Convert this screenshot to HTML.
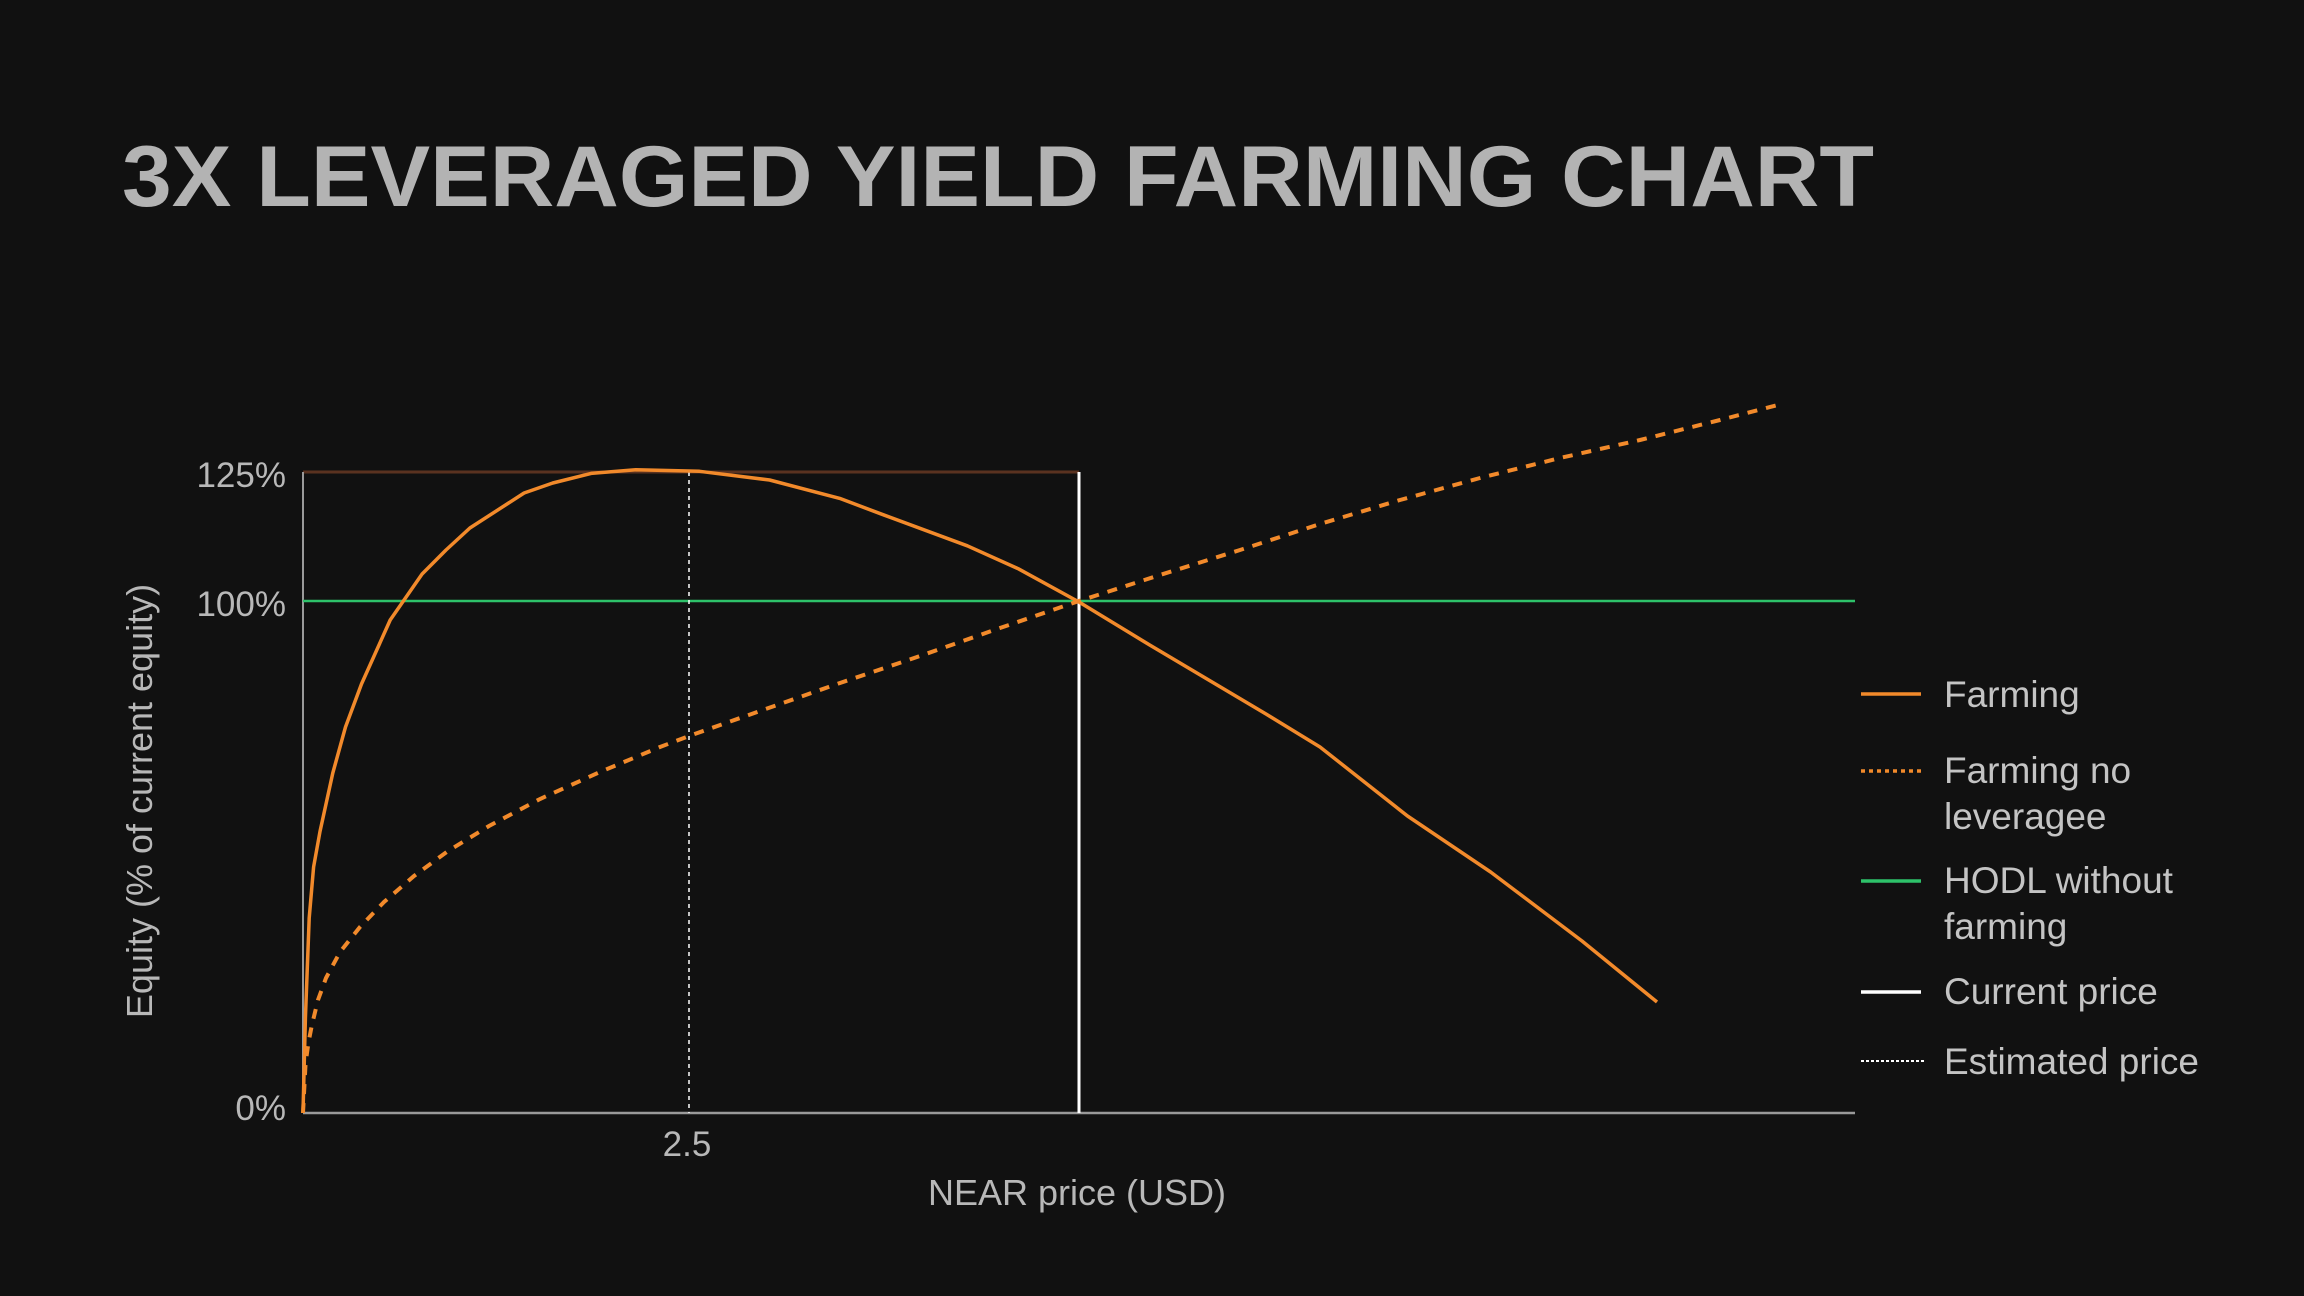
<!DOCTYPE html>
<html><head><meta charset="utf-8"><style>
html,body{margin:0;padding:0;background:#111111;}
svg{display:block;}
text{font-family:"Liberation Sans",sans-serif;}
</style></head><body>
<svg width="2304" height="1296" viewBox="0 0 2304 1296" xmlns="http://www.w3.org/2000/svg">
<rect width="2304" height="1296" fill="#111111"/>
<text x="122" y="206" font-size="86" font-weight="bold" fill="#b3b3b3" textLength="1752" lengthAdjust="spacingAndGlyphs">3X LEVERAGED YIELD FARMING CHART</text>

<line x1="303" y1="472" x2="1079" y2="472" stroke="#5a3220" stroke-width="3"/>
<line x1="303" y1="472" x2="303" y2="1113" stroke="#9a9a9a" stroke-width="2"/>
<line x1="303" y1="1113" x2="1855" y2="1113" stroke="#9a9a9a" stroke-width="2.5"/>
<line x1="303" y1="601" x2="1855" y2="601" stroke="#2ec26a" stroke-width="2.5"/>
<line x1="689" y1="472" x2="689" y2="1113" stroke="#ffffff" stroke-width="1.5" stroke-dasharray="4,4"/>
<line x1="1079" y1="472" x2="1079" y2="1113" stroke="#ffffff" stroke-width="3"/>

<path fill="none" stroke="#f28a2b" stroke-width="4" stroke-dasharray="10,9" d="M303,1113 L305.6,1063 L308.4,1043 L311.9,1025 L318,1000 L326,978 L340,952 L360,927 L384,902 L414,876 L448,851 L489,826 L540,799 L600,772 L660,747 L689,736 L760,711 L840,683 L920,656 L1000,628 L1079,601 L1160,575 L1240,550 L1320,524 L1400,500 L1480,478 L1560,458 L1640,440 L1720,420 L1778,405"/>

<polyline fill="none" stroke="#f28a2b" stroke-width="3.5" stroke-linejoin="round" points="303,1113 305.4,1018 309.2,918 313.6,867 320,831.5 332.8,773 345.5,727 361.5,684 390.2,620 422.1,574 446,550 469.9,528 524.1,493 552.8,483 591.1,473.4 635.7,469.8 699.5,471.3 769.6,480 839.8,498.4 884.4,515.2 967.3,545.8 1018.4,568.8 1079,602 1149.7,645 1266,714 1320,747 1407.5,816 1490.6,872 1582,941 1657,1002"/>

<g fill="#b8b8b8" font-size="35">
<text x="286" y="487" text-anchor="end">125%</text>
<text x="286" y="616" text-anchor="end">100%</text>
<text x="286" y="1120" text-anchor="end">0%</text>
<text x="687" y="1156" text-anchor="middle">2.5</text>
</g>
<text x="1077" y="1205" text-anchor="middle" font-size="36" fill="#b8b8b8">NEAR price (USD)</text>
<text transform="translate(152,801) rotate(-90)" text-anchor="middle" font-size="36" fill="#b8b8b8">Equity (% of current equity)</text>

<line x1="1861" y1="694" x2="1921" y2="694" stroke="#f28a2b" stroke-width="3.5"/>
<line x1="1861" y1="771" x2="1921" y2="771" stroke="#f28a2b" stroke-width="3.5" stroke-dasharray="4,4"/>
<line x1="1861" y1="881" x2="1921" y2="881" stroke="#2ec26a" stroke-width="3.5"/>
<line x1="1861" y1="992" x2="1921" y2="992" stroke="#ffffff" stroke-width="3.5"/>
<line x1="1861" y1="1061" x2="1924" y2="1061" stroke="#ffffff" stroke-width="2" stroke-dasharray="3,2"/>
<g fill="#c4c4c4" font-size="37">
<text x="1944" y="707">Farming</text>
<text x="1944" y="783">Farming no</text>
<text x="1944" y="829">leveragee</text>
<text x="1944" y="893">HODL without</text>
<text x="1944" y="939">farming</text>
<text x="1944" y="1004">Current price</text>
<text x="1944" y="1074">Estimated price</text>
</g>
</svg>
</body></html>
